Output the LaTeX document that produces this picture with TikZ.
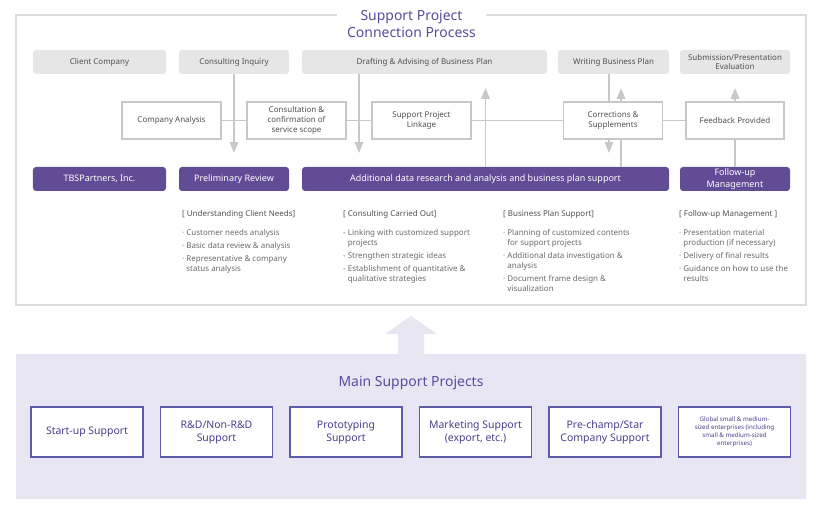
\documentclass[tikz,border=0pt]{standalone}
\usepackage{fontspec}
\setmainfont{Noto Sans}
\usetikzlibrary{positioning, arrows}
\definecolor{tbpurple}{HTML}{634C96}
\definecolor{titlepurple}{HTML}{5B4A9C}
\definecolor{boxgray}{HTML}{E6E6E6}
\definecolor{linegray}{HTML}{C8C8C8}
\definecolor{framegray}{HTML}{DCDCDC}
\definecolor{lavender}{HTML}{E8E6F2}
\definecolor{projblue}{HTML}{5C5CA8}
\definecolor{projtext}{HTML}{4A3F8C}
\definecolor{txtgray}{HTML}{505050}
\definecolor{itemgray}{HTML}{6A6A6A}
\tikzstyle{graybox} = [rectangle, rounded corners=3bp, minimum height=24bp, inner sep=0pt, align=center, fill=boxgray, text=txtgray, font=\fontsize{8}{10}\selectfont]
\tikzstyle{whitebox} = [rectangle, minimum width=99bp, minimum height=37bp, inner sep=0pt, align=center, draw=linegray, line width=1.2bp, fill=white, text=txtgray, font=\fontsize{8}{10}\selectfont]
\tikzstyle{purplebox} = [rectangle, rounded corners=3bp, minimum height=24bp, inner sep=0pt, align=center, fill=tbpurple, text=white, font=\fontsize{9}{11.5}\selectfont]
\tikzstyle{projbox} = [rectangle, minimum width=112bp, minimum height=50bp, inner sep=0pt, align=center, draw=projblue, line width=1.2bp, fill=white, text=projtext, font=\fontsize{10.5}{13}\selectfont]
\tikzstyle{heading} = [anchor=west, inner sep=0pt, text=txtgray, font=\fontsize{8}{10}\selectfont]
\tikzstyle{items} = [anchor=north west, inner sep=0pt, align=left, text=itemgray, font=\fontsize{8}{10}\selectfont]
\tikzstyle{line} = [draw=linegray, line width=1.5bp]
\tikzstyle{arrow} = [line, ->, >=triangle 45, shorten >=14bp]

\begin{document}
\begin{tikzpicture}[x=1bp, y=-1bp]
		\useasboundingbox (0,0) rectangle (822,508);
		% upper frame and title
		\draw [framegray, line width=1.2bp] (16,15) rectangle (806,305);
		\node (title) [fill=white, inner xsep=10bp, inner ysep=2bp, align=center, text=titlepurple, font=\fontsize{14}{17}\selectfont] at (411.5,24) {Support Project\\Connection Process};
		% top row
		\node (client) [graybox, minimum width=133bp] at (99.5,62) {Client Company};
		\node (inquiry) [graybox, minimum width=110bp] at (234,62) {Consulting Inquiry};
		\node (drafting) [graybox, minimum width=245bp] at (424.5,62) {Drafting \& Advising of Business Plan};
		\node (writing) [graybox, minimum width=111bp] at (613.5,62) {Writing Business Plan};
		\node (submission) [graybox, minimum width=110bp] at (735,62) {Submission/Presentation\\Evaluation};
		% middle row
		\node (analysis) [whitebox] at (171.5,120.5) {Company Analysis};
		\node (consult) [whitebox] at (296.5,120.5) {Consultation \&\\confirmation of\\service scope};
		\node (linkage) [whitebox] at (421.5,120.5) {Support Project\\Linkage};
		\node (corrections) [whitebox] at (613,120.5) {Corrections \&\\Supplements};
		\node (feedback) [whitebox, minimum width=98bp] at (735,120.5) {Feedback Provided};
		% purple row
		\node (tbs) [purplebox, minimum width=133bp] at (99.5,179) {TBSPartners, Inc.};
		\node (review) [purplebox, minimum width=110bp] at (234,179) {Preliminary Review};
		\node (additional) [purplebox, minimum width=367bp] at (485.5,179) {Additional data research and analysis and business plan support};
		\node (followup) [purplebox, minimum width=110bp] at (735,179) {Follow-up\\Management};
		% connectors
		\draw [line] (analysis) -- (consult);
		\draw [line] (consult) -- (linkage);
		\draw [line] (linkage) -- (corrections);
		\draw [line] (corrections) -- (feedback);
		\draw [arrow] (inquiry.south) -- (review.north);
		\draw [arrow] ([xshift=-65.5bp]drafting.south) -- ([xshift=-65.5bp]drafting.south |- additional.north);
		\draw [arrow] (additional.north) -- (additional.north |- drafting.south);
		\draw [line] ([xshift=-4.5bp]writing.south) -- ([xshift=-4.5bp]writing.south |- corrections.north);
		\draw [arrow] ([xshift=8bp]corrections.north) -- ([xshift=8bp]corrections.north |- writing.south);
		\draw [arrow] ([xshift=-4bp]corrections.south) -- ([xshift=-4bp]corrections.south |- additional.north);
		\draw [line] ([xshift=8bp]corrections.south |- additional.north) -- ([xshift=8bp]corrections.south);
		\draw [arrow] (feedback.north) -- (submission.south);
		\draw [line] (followup.north) -- (feedback.south);
		% details
		\node (needshead) [heading] at (182,214.5) {[ Understanding Client Needs]};
		\node (needs) [items] at (182,229) {· Customer needs analysis\\[3bp]· Basic data review \& analysis\\[3bp]· Representative \& company\\\phantom{· }status analysis};
		\node (carriedhead) [heading] at (343,214.5) {[ Consulting Carried Out]};
		\node (carried) [items] at (343,229) {- Linking with customized support\\\phantom{- }projects\\[3bp]- Strengthen strategic ideas\\[3bp]- Establishment of quantitative \&\\\phantom{- }qualitative strategies};
		\node (planhead) [heading] at (503,214.5) {[ Business Plan Support]};
		\node (plan) [items] at (503,229) {· Planning of customized contents\\\phantom{· }for support projects\\[3bp]· Additional data investigation \&\\\phantom{· }analysis\\[3bp]· Document frame design \&\\\phantom{· }visualization};
		\node (managehead) [heading] at (679,214.5) {[ Follow-up Management ]};
		\node (manage) [items] at (679,229) {· Presentation material\\\phantom{· }production (if necessary)\\[3bp]· Delivery of final results\\[3bp]· Guidance on how to use the\\\phantom{· }results};
		% lower panel with the big arrow
		\fill [lavender] (16,354) rectangle (806,499);
		\fill [lavender] (398,355) -- (398,334) -- (385,334) -- (411,316) -- (437,334) -- (424,334) -- (424,355) -- cycle;
		\node (main) [text=titlepurple, font=\fontsize{14}{17}\selectfont] at (411,383) {Main Support Projects};
		\node (startup) [projbox] at (87,432) {Start-up Support};
		\node (rnd) [projbox, right=16.3bp of startup] {R\&D/Non-R\&D\\Support};
		\node (proto) [projbox, right=16.3bp of rnd] {Prototyping\\Support};
		\node (marketing) [projbox, right=16.3bp of proto] {Marketing Support\\(export, etc.)};
		\node (prechamp) [projbox, right=16.3bp of marketing] {Pre-champ/Star\\Company Support};
		\node (global) [projbox, right=16.3bp of prechamp, font=\fontsize{6.2}{8}\selectfont] {Global small \& medium-\\sized enterprises (including\\small \& medium-sized\\enterprises)};
	\end{tikzpicture}
\end{document}
